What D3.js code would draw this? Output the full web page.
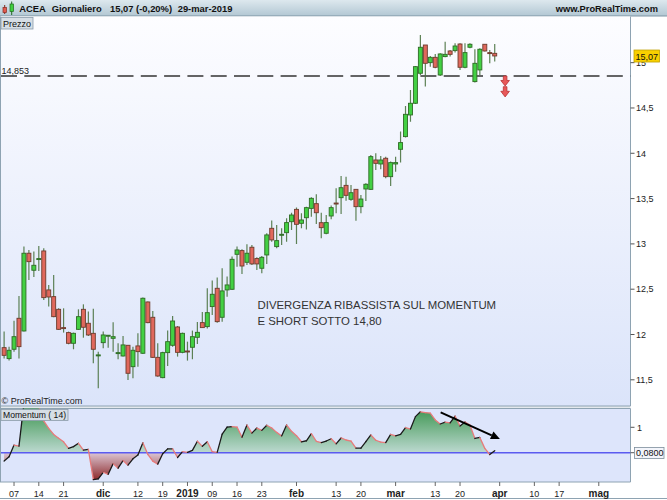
<!DOCTYPE html>
<html><head><meta charset="utf-8">
<script src="https://cdn.jsdelivr.net/npm/d3@7"></script>
<style>body{margin:0;background:#fff} svg{display:block;font-family:"Liberation Sans",Arial,sans-serif}</style>
</head><body><svg id="c" width="667" height="500"></svg>
<script>
// ---------- DATA ----------
const dates = [
"2018-11-05","2018-11-06","2018-11-07","2018-11-08","2018-11-09","2018-11-12","2018-11-13","2018-11-14","2018-11-15","2018-11-16",
"2018-11-19","2018-11-20","2018-11-21","2018-11-22","2018-11-23","2018-11-26","2018-11-27","2018-11-28","2018-11-29","2018-11-30",
"2018-12-03","2018-12-04","2018-12-05","2018-12-06","2018-12-07","2018-12-10","2018-12-11","2018-12-12","2018-12-13","2018-12-14",
"2018-12-17","2018-12-18","2018-12-19","2018-12-20","2018-12-21","2018-12-27","2018-12-28",
"2019-01-02","2019-01-03","2019-01-04","2019-01-07","2019-01-08","2019-01-09","2019-01-10","2019-01-11","2019-01-14","2019-01-15",
"2019-01-16","2019-01-17","2019-01-18","2019-01-21","2019-01-22","2019-01-23","2019-01-24","2019-01-25","2019-01-28","2019-01-29",
"2019-01-30","2019-01-31","2019-02-01","2019-02-04","2019-02-05","2019-02-06","2019-02-07","2019-02-08","2019-02-11","2019-02-12",
"2019-02-13","2019-02-14","2019-02-15","2019-02-18","2019-02-19","2019-02-20","2019-02-21","2019-02-22","2019-02-25","2019-02-26",
"2019-02-27","2019-02-28","2019-03-01","2019-03-04","2019-03-05","2019-03-06","2019-03-07","2019-03-08","2019-03-11","2019-03-12",
"2019-03-13","2019-03-14","2019-03-15","2019-03-18","2019-03-19","2019-03-20","2019-03-21","2019-03-22","2019-03-25","2019-03-26",
"2019-03-27","2019-03-28","2019-03-29"
];
const futureDates = [
"2019-04-01","2019-04-02","2019-04-03","2019-04-04","2019-04-05","2019-04-08","2019-04-09","2019-04-10","2019-04-11","2019-04-12",
"2019-04-15","2019-04-16","2019-04-17","2019-04-18","2019-04-23","2019-04-24","2019-04-25","2019-04-26","2019-04-29","2019-04-30",
"2019-05-02","2019-05-03","2019-05-06","2019-05-07","2019-05-08","2019-05-09","2019-05-10"
];
const openP = [11.855,11.734,11.837,12.179,12.039,12.897,12.709,12.830,12.922,12.492,12.418,12.278,12.076,12.021,11.903,12.057,12.278,12.124,12.013,11.770,
11.910,11.984,11.958,11.793,11.763,11.881,11.645,11.874,11.793,12.359,12.190,11.748,11.524,11.800,11.881,12.083,11.803,11.818,11.859,11.969,
12.131,12.087,12.308,12.510,12.190,12.492,12.499,12.885,12.926,12.797,12.963,12.838,12.731,12.878,13.172,12.970,13.099,13.124,13.245,13.381,
13.227,13.289,13.392,13.444,13.234,13.117,13.308,13.451,13.510,13.646,13.492,13.602,13.411,13.606,13.602,13.926,13.882,13.945,13.742,13.882,
14.044,14.184,14.423,14.552,14.883,15.195,15.000,15.059,14.864,15.067,15.129,15.133,15.206,14.949,15.170,14.791,14.920,15.203,15.111,15.103];
const highP = [12.032,11.866,12.153,12.425,12.970,12.933,12.915,12.977,12.952,12.547,12.657,12.289,12.289,12.032,12.021,12.278,12.333,12.253,12.285,11.811,
12.032,11.995,12.135,11.903,11.984,11.885,11.866,12.013,12.407,12.363,12.260,11.903,11.811,12.043,12.204,12.094,12.021,11.921,12.043,12.138,
12.248,12.510,12.595,12.628,12.731,12.639,12.860,12.970,12.941,12.996,12.988,12.852,12.867,13.117,13.257,13.209,13.172,13.283,13.344,13.403,
13.337,13.411,13.514,13.547,13.344,13.319,13.425,13.613,13.749,13.742,13.650,13.602,13.540,13.669,13.981,14.000,13.970,13.963,13.908,13.963,
14.239,14.522,14.699,14.964,15.306,15.195,15.074,15.096,15.103,15.232,15.140,15.214,15.214,15.214,15.214,15.148,15.159,15.203,15.140,15.206];
const lowP = [11.734,11.712,11.811,11.734,12.032,12.602,12.635,12.701,12.381,12.308,12.190,12.050,12.021,11.892,11.837,12.050,11.965,11.984,11.682,11.406,
11.848,11.855,11.811,11.727,11.756,11.498,11.517,11.645,11.785,12.124,11.741,11.535,11.517,11.652,11.866,11.756,11.793,11.712,11.727,11.896,
12.076,12.065,12.215,12.130,12.142,12.418,12.492,12.749,12.668,12.768,12.768,12.712,12.676,12.779,13.025,12.952,12.989,13.025,13.153,13.000,
13.172,13.160,13.300,13.219,13.062,13.106,13.271,13.337,13.330,13.477,13.477,13.256,13.337,13.474,13.595,13.816,13.823,13.724,13.639,13.797,
13.897,14.173,14.349,14.544,14.864,14.736,14.956,14.938,14.853,15.059,15.067,15.111,14.920,14.938,15.159,14.780,14.864,15.122,14.993,15.012];
const closeP = [11.770,11.826,11.976,11.866,12.897,12.804,12.764,12.838,12.407,12.414,12.197,12.057,12.069,11.903,12.013,12.197,12.080,11.995,11.837,11.775,
11.995,11.992,11.976,11.800,11.885,11.572,11.826,11.811,12.400,12.131,11.748,11.542,11.800,11.921,12.149,11.803,12.013,11.811,11.976,12.024,
12.076,12.241,12.444,12.142,12.481,12.547,12.830,12.933,12.756,12.897,12.779,12.779,12.852,13.099,13.044,13.036,13.106,13.235,13.319,13.216,
13.264,13.400,13.503,13.344,13.179,13.235,13.400,13.444,13.620,13.536,13.565,13.411,13.495,13.658,13.963,13.889,13.926,13.742,13.897,13.897,
14.118,14.430,14.552,14.956,15.170,14.993,15.059,14.949,15.096,15.092,15.092,15.184,14.949,15.111,15.203,14.993,15.148,15.129,15.103,15.074];
const momentum = [-0.33,-0.16,0.30,0.26,1.95,1.90,1.85,1.80,1.25,0.96,0.72,0.57,0.43,0.17,
0.24,0.37,0.10,0.13,-1.06,-1.03,-0.77,-0.85,-0.43,-0.61,-0.31,-0.49,-0.24,-0.09,
0.39,-0.07,-0.33,-0.45,-0.04,0.15,0.15,-0.19,0.04,0.01,
0.09,0.45,0.25,0.43,0.04,0.01,0.73,1.01,1.03,1.01,
0.61,1.09,0.77,0.97,0.88,1.08,0.97,0.80,0.66,1.09,
0.84,0.67,0.43,0.47,0.75,0.45,0.40,0.46,0.55,0.35,
0.58,0.50,0.46,0.18,0.18,0.44,0.70,0.49,0.42,0.40,
0.72,0.66,0.72,0.99,0.93,1.42,1.61,1.58,1.56,1.29,
1.13,1.20,1.17,1.44,1.05,1.21,1.09,0.56,0.60,0.17,
-0.07,0.08];
const priceTicks = [11.5,12,12.5,13,13.5,14,14.5,15];
const momTicks = [1];
const dateTickDates  = ["2018-11-07","2018-11-14","2018-11-21","2018-12-03","2018-12-12","2018-12-19","2019-01-02","2019-01-09","2019-01-16","2019-01-23","2019-02-01","2019-02-13","2019-02-20","2019-03-01","2019-03-13","2019-03-20","2019-04-01","2019-04-10","2019-04-17","2019-05-02"];
const dateTickLabels = ["07","14","21","dic","12","19","2019","09","16","23","feb","13","20","mar","13","20","apr","10","17","mag"];
const levelPrice = 14.853;          // horizontal support level
const lastPrice = 15.07;
const lastMomentum = 0.08;
const trendFrom = ["2019-03-13", 1.59];   // momentum divergence arrow
const trendTo   = ["2019-03-29", 0.54];
const sellArrows = [[14.853, 14.743], [14.735, 14.622]];  // price spans of red arrows
const sellArrowDate = "2019-04-02";
const headerParts = ["ACEA","Giornaliero","15,07 (-0,20%)","29-mar-2019"];
const noteLines = ["DIVERGENZA RIBASSISTA SUL MOMENTUM","E SHORT SOTTO 14,80"];

// ---------- LAYOUT ----------
const allDates = dates.concat(futureDates);
const idx = d => allDates.indexOf(d);
const W = 667, PR = 630.5;
const P = {top:16.5, bottom:406};
const M = {top:408.5, bottom:482};
const svg = d3.select("#c");
const defs = svg.append("defs");
const fmt = v => String(v).replace(".", ",");

const x = d3.scaleLinear().domain([-0.83, 126.4]).range([0, PR]);
const y = d3.scaleLinear().domain([11.222, 15.504]).range([405, 17]);
const my = d3.scaleLinear().domain([-1.153, 1.72]).range([M.bottom, M.top + 0.5]);

function lg(id, stops, x1, y1, x2, y2){
  const g = defs.append("linearGradient").attr("id", id).attr("gradientUnits","userSpaceOnUse")
    .attr("x1",x1).attr("y1",y1).attr("x2",x2).attr("y2",y2);
  stops.forEach(s => g.append("stop").attr("offset", s[0]).attr("stop-color", s[1]));
}
lg("hdr", [[0,"#dde8ee"],[1,"#b2c7d3"]], 0, 0, 0, 16);
lg("pbg", [[0,"#fdfdff"],[1,"#dbe4fa"]], 0, P.top, 0, P.bottom);
lg("gpos", [[0,"#3f9652"],[1,"#bcd9d0"]], 0, M.top, 0, my(0));
lg("gneg", [[0,"#dcc6d3"],[1,"#861c1c"]], 0, my(0), 0, M.bottom);

defs.append("clipPath").attr("id","cp").append("rect").attr("x",1).attr("y",P.top).attr("width",PR-1).attr("height",P.bottom-P.top);
defs.append("clipPath").attr("id","cm").append("rect").attr("x",1).attr("y",M.top).attr("width",PR-1).attr("height",M.bottom-M.top);
defs.append("clipPath").attr("id","cmPos").append("rect").attr("x",0).attr("y",M.top).attr("width",PR).attr("height",my(0)-M.top);
defs.append("clipPath").attr("id","cmNeg").append("rect").attr("x",0).attr("y",my(0)).attr("width",PR).attr("height",M.bottom-my(0));

// ---------- BACKGROUNDS ----------
svg.append("rect").attr("width",W).attr("height",500).attr("fill","#fff");
svg.append("rect").attr("x",0).attr("y",0).attr("width",W).attr("height",16).attr("fill","url(#hdr)");
svg.append("line").attr("x1",0).attr("x2",W).attr("y1",16).attr("y2",16).attr("stroke","#7d94a3");
svg.append("rect").attr("x",0).attr("y",P.top).attr("width",PR).attr("height",P.bottom-P.top).attr("fill","url(#pbg)");
svg.append("rect").attr("x",0).attr("y",P.bottom).attr("width",PR).attr("height",M.top-P.bottom).attr("fill","#e3e8ed");
svg.append("rect").attr("x",0).attr("y",M.top).attr("width",PR).attr("height",M.bottom-M.top).attr("fill","#dde5fb");
const border = "#8ea3b2";
[[0.5,P.top,0.5,M.bottom],[PR,P.top,PR,P.bottom],[PR,M.top,PR,M.bottom],
 [0,P.bottom,PR,P.bottom],[0,M.top,PR,M.top],[0,M.bottom,PR,M.bottom],[0,498.5,W,498.5]]
 .forEach(l => svg.append("line").attr("x1",l[0]).attr("y1",l[1]).attr("x2",l[2]).attr("y2",l[3]).attr("stroke",border).attr("stroke-width",1));

// ---------- HEADER ----------
const ic = svg.append("g");
ic.append("line").attr("x1",4.7).attr("x2",4.7).attr("y1",5).attr("y2",14).attr("stroke","#7a2a20");
ic.append("rect").attr("x",3).attr("y",7.5).attr("width",3.5).attr("height",5).attr("fill","#e05a4e").attr("stroke","#8a2a20").attr("stroke-width",0.7);
ic.append("line").attr("x1",11.7).attr("x2",11.7).attr("y1",1.5).attr("y2",15).attr("stroke","#1f6a1f");
ic.append("rect").attr("x",10).attr("y",4).attr("width",3.5).attr("height",7.5).attr("fill","#3fcf3f").attr("stroke","#1f6a1f").attr("stroke-width",0.7);
const hx = [19.3, 51.7, 110, 177.7];
headerParts.forEach((t,i) => svg.append("text").attr("x",hx[i]).attr("y",12).attr("font-size",9.4).attr("font-weight","bold").attr("fill","#111").text(t));
svg.append("text").attr("x",658).attr("y",12).attr("text-anchor","end").attr("font-size",9.3).attr("font-weight","bold").attr("fill","#111").text("www.ProRealTime.com");

// ---------- PRICE PANEL ----------
const pg = svg.append("g").attr("clip-path","url(#cp)");
pg.append("line").attr("x1",1).attr("x2",PR).attr("y1",y(levelPrice)).attr("y2",y(levelPrice))
  .attr("stroke","#333").attr("stroke-width",1.3).attr("stroke-dasharray","16,7.3");
svg.append("text").attr("x",1.5).attr("y",y(levelPrice)-1.8).attr("font-size",9).attr("fill","#222").text(fmt(levelPrice));

const cg = pg.append("g");
dates.forEach((d,i) => {
  const cx = x(i), up = closeP[i] >= openP[i];
  cg.append("line").attr("x1",cx).attr("x2",cx).attr("y1",y(highP[i])).attr("y2",y(lowP[i]))
    .attr("stroke", "#4d7443").attr("stroke-width",1.2).attr("stroke-opacity",0.9);
  const top = y(Math.max(openP[i],closeP[i])), bot = y(Math.min(openP[i],closeP[i]));
  cg.append("rect").attr("x",cx-2).attr("width",4).attr("y",top).attr("height",Math.max(1,bot-top))
    .attr("fill", up ? "#43d043" : "#e0685c")
    .attr("stroke", up ? "#2f6b25" : "#6e3b2c").attr("stroke-width",0.9);
});

sellArrows.forEach(a => {
  const cx = x(idx(sellArrowDate)) + 0.5, y0 = y(a[0]), y1 = y(a[1]), h = y1 - y0, mid = y0 + h*0.45;
  pg.append("path").attr("d", `M${cx-1.8},${y0} L${cx+1.8},${y0} L${cx+1.8},${mid} L${cx+4.3},${mid} L${cx},${y1} L${cx-4.3},${mid} L${cx-1.8},${mid} Z`)
    .attr("fill","#e8585a").attr("stroke","#b83234").attr("stroke-width",0.8);
});

noteLines.forEach((t,i) => svg.append("text").attr("x",257.5).attr("y",308.5 + i*16).attr("font-size",11.4).attr("fill","#333").text(t));
svg.append("text").attr("x",1.5).attr("y",404).attr("font-size",9).attr("fill","#222").text("© ProRealTime.com");

svg.append("rect").attr("x",1).attr("y",17.5).attr("width",32).attr("height",11.5).attr("fill","#d6dee5").attr("stroke","#8a9caa").attr("stroke-width",0.8);
svg.append("text").attr("x",3).attr("y",26.5).attr("font-size",9).attr("fill","#111").text("Prezzo");

priceTicks.forEach(v => {
  svg.append("line").attr("x1",PR).attr("x2",PR+4).attr("y1",y(v)).attr("y2",y(v)).attr("stroke","#555");
  svg.append("text").attr("x",636).attr("y",y(v)+3.3).attr("font-size",9).attr("fill","#222").text(fmt(v));
});
svg.append("rect").attr("x",634).attr("y",y(lastPrice)-6.3).attr("width",25.5).attr("height",12).attr("fill","#f8d000").attr("stroke","#c0a000").attr("stroke-width",0.8);
svg.append("text").attr("x",635.5).attr("y",y(lastPrice)+3.3).attr("font-size",9).attr("fill","#111").text(fmt(lastPrice));

// ---------- MOMENTUM PANEL ----------
const mg = svg.append("g").attr("clip-path","url(#cm)");
const area = d3.area().x((d,i)=>x(i)).y0(my(0)).y1(d=>my(d));
mg.append("path").datum(momentum).attr("d",area).attr("fill","url(#gpos)").attr("clip-path","url(#cmPos)");
mg.append("path").datum(momentum).attr("d",area).attr("fill","url(#gneg)").attr("clip-path","url(#cmNeg)");
mg.append("line").attr("x1",0).attr("x2",PR).attr("y1",my(0)).attr("y2",my(0)).attr("stroke","#5b5bf0").attr("stroke-width",1.5);
for (let i = 0; i < momentum.length-1; i++) {
  const rising = momentum[i+1] >= momentum[i];
  mg.append("line").attr("x1",x(i)).attr("y1",my(momentum[i])).attr("x2",x(i+1)).attr("y2",my(momentum[i+1]))
    .attr("stroke", rising ? "#1b1b1b" : "#e77b7b").attr("stroke-width",1.3).attr("stroke-linecap","round");
}
const ax1 = x(idx(trendFrom[0])) + 5.4, ay1 = my(trendFrom[1]);
const ax2 = x(idx(trendTo[0])) + 5.2, ay2 = my(trendTo[1]);
const ang = Math.atan2(ay2-ay1, ax2-ax1);
const hl = 9, hw = 4.2;
const bx = ax2 - hl*Math.cos(ang), by = ay2 - hl*Math.sin(ang);
mg.append("line").attr("x1",ax1).attr("y1",ay1).attr("x2",bx).attr("y2",by).attr("stroke","#000").attr("stroke-width",2);
mg.append("path").attr("d",`M${ax2},${ay2} L${bx - hw*Math.sin(ang)},${by + hw*Math.cos(ang)} L${bx + hw*Math.sin(ang)},${by - hw*Math.cos(ang)} Z`).attr("fill","#000");

svg.append("rect").attr("x",1).attr("y",409.5).attr("width",67).attr("height",11).attr("fill","#d6dee5").attr("stroke","#8a9caa").attr("stroke-width",0.8);
svg.append("text").attr("x",3).attr("y",418.3).attr("font-size",8.6).attr("fill","#111").text("Momentum ( 14)");

momTicks.forEach(v => {
  svg.append("line").attr("x1",PR).attr("x2",PR+4).attr("y1",my(v)).attr("y2",my(v)).attr("stroke","#555");
  svg.append("text").attr("x",637).attr("y",my(v)+3.3).attr("font-size",9).attr("fill","#222").text(fmt(v));
});
svg.append("line").attr("x1",PR).attr("x2",PR+4).attr("y1",my(0)).attr("y2",my(0)).attr("stroke","#555");
svg.append("rect").attr("x",634.5).attr("y",my(0)-5.3).attr("width",29.5).attr("height",11).attr("fill","#f3f5fb").attr("stroke","#7d8e9c").attr("stroke-width",0.8);
svg.append("text").attr("x",636).attr("y",my(0)+3.3).attr("font-size",9).attr("fill","#111").text(lastMomentum.toFixed(4).replace(".",","));

// ---------- DATE AXIS ----------
dateTickDates.forEach((d,i) => {
  const tx = x(idx(d)), lab = dateTickLabels[i], bold = lab.length !== 2;
  svg.append("line").attr("x1",tx).attr("x2",tx).attr("y1",M.bottom).attr("y2",M.bottom+4).attr("stroke","#666");
  svg.append("text").attr("x",tx).attr("y",496.5).attr("text-anchor","middle")
    .attr("font-size", bold ? 10 : 9).attr("font-weight", bold ? "bold" : "normal").attr("fill","#222").text(lab);
});
</script></body></html>
